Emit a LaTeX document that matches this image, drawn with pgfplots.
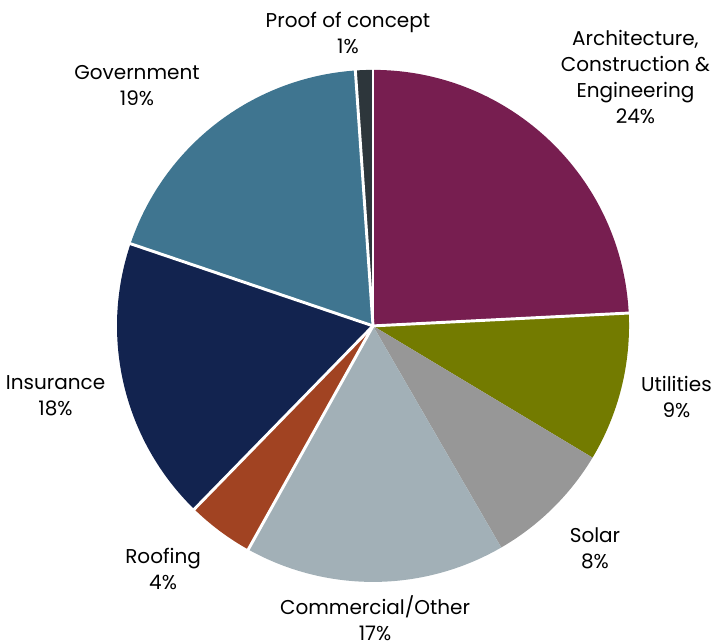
\documentclass[border=0pt]{standalone}
\usepackage{fontspec}
\setmainfont{Poppins}
\usepackage{pgfplots}
\usepackage{pgfplotstable}
\pgfplotsset{compat=1.18}

\definecolor{cArch}{HTML}{771E50}
\definecolor{cUtil}{HTML}{737B00}
\definecolor{cSolar}{HTML}{979797}
\definecolor{cComm}{HTML}{A2B0B7}
\definecolor{cRoof}{HTML}{A14322}
\definecolor{cIns}{HTML}{12234F}
\definecolor{cGov}{HTML}{3F7590}
\definecolor{cPoc}{HTML}{2D363B}

% share (%), colour, white edge at start of slice
\pgfplotstableread{
value color sep
24.2  cArch  1
9.4   cUtil  1
8.05  cSolar 0
16.45 cComm  0
4.2   cRoof  1
17.9  cIns   1
18.7  cGov   1
1.1   cPoc   1
}\slices

\def\R{192pt}
\def\cum{0}
\pgfplotsforeachungrouped \i in {0,...,7}{%
  \pgfplotstablegetelem{\i}{value}\of\slices
  \let\v\pgfplotsretval
  \pgfplotstablegetelem{\i}{color}\of\slices
  \colorlet{slice\i}{\pgfplotsretval}
  \pgfplotstablegetelem{\i}{sep}\of\slices
  \expandafter\let\csname ssep\i\endcsname\pgfplotsretval
  \pgfmathsetmacro\a{90-3.6*\cum}
  \pgfmathsetmacro\cum{\cum+\v}
  \pgfmathsetmacro\b{90-3.6*\cum}
  \expandafter\let\csname sa\i\endcsname\a
  \expandafter\let\csname sb\i\endcsname\b
}

\begin{document}
\begin{tikzpicture}
\begin{axis}[
  x=192pt, y=192pt,
  xmin=-1.457, xmax=1.328,
  ymin=-1.238, ymax=1.273,
  hide axis,
  clip=false,
  nodes={font=\fontsize{15}{19.5}\selectfont, align=center, text=black},
]
\pgfplotsinvokeforeach{0,...,7}{
  \fill[slice#1] (axis cs:0,0) -- ++(\csname sa#1\endcsname:\R)
    arc[start angle=\csname sa#1\endcsname, end angle=\csname sb#1\endcsname, radius=\R] -- cycle;
}
\pgfplotsinvokeforeach{0,...,7}{
  \draw[white, line width=2.2pt, draw opacity=\csname ssep#1\endcsname]
    (axis cs:0,0) -- ++(\csname sa#1\endcsname:\R+1pt);
}
\node at (axis cs:-0.098,1.143) {Proof of concept\\1\%};
\node at (axis cs:1.025,0.973) {Architecture,\\Construction \&\\Engineering\\24\%};
\node at (axis cs:1.185,-0.277) {Utilities\\9\%};
\node at (axis cs:0.867,-0.869) {Solar\\8\%};
\node at (axis cs:0.008,-1.140) {Commercial/Other\\17\%};
\node at (axis cs:-0.820,-0.949) {Roofing\\4\%};
\node at (axis cs:-1.240,-0.273) {Insurance\\18\%};
\node at (axis cs:-0.922,0.9375) {Government\\19\%};
\end{axis}
\pgfresetboundingbox
\path (current axis.south west) rectangle (current axis.north east);
\end{tikzpicture}
\end{document}
